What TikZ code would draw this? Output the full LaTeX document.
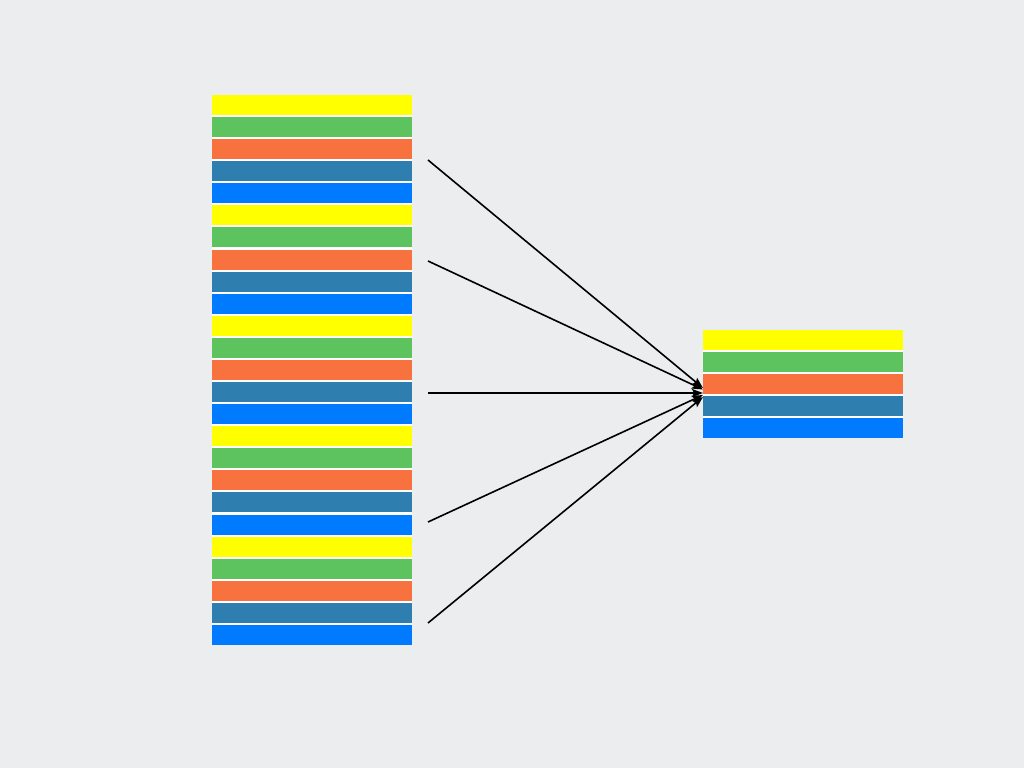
\documentclass[tikz,border=0pt]{standalone}
\usetikzlibrary{arrows.meta}
\definecolor{bgc}{HTML}{ECEDEF}
\definecolor{c0}{HTML}{FFFF00}
\definecolor{c1}{HTML}{5CC35E}
\definecolor{c2}{HTML}{F7723F}
\definecolor{c3}{HTML}{2E7EAF}
\definecolor{c4}{HTML}{007AFF}
\begin{document}
\begin{tikzpicture}[x=1bp,y=-1bp,
  bar/.style={minimum width=200bp, minimum height=20bp, inner sep=0pt, outer sep=0pt, anchor=north west, draw=none},
  conn/.style={line width=1.6bp, -{Stealth[length=11bp,width=8bp,inset=2bp]}}]
\fill[bgc] (0,0) rectangle (1024,768);
\useasboundingbox (0,0) rectangle (1024,768);
% left stack
\fill[white] (212,95) rectangle (412,645);
\foreach \i in {0,...,24}{
  \pgfmathtruncatemacro{\k}{mod(\i,5)}
  \node[bar, fill=c\k] (L\i) at (212,{95+\i*22.083}) {};
}
% right stack
\fill[white] (703,330) rectangle (903,438);
\foreach \i in {0,...,4}{
  \node[bar, fill=c\i] (R\i) at (703,{330+\i*22}) {};
}
% connectors
\coordinate (s1) at (428,160);
\coordinate (s2) at (428,261);
\coordinate (s3) at (428,393);
\coordinate (s4) at (428,522);
\coordinate (s5) at (428,623);
\coordinate (e1) at (703,388);
\coordinate (e2) at (703,389.5);
\coordinate (e3) at (703,393);
\coordinate (e4) at (703,395);
\coordinate (e5) at (703,397);
\foreach \n in {1,...,5}{
  \draw[conn] (s\n) -- (e\n);
}
\end{tikzpicture}
\end{document}
